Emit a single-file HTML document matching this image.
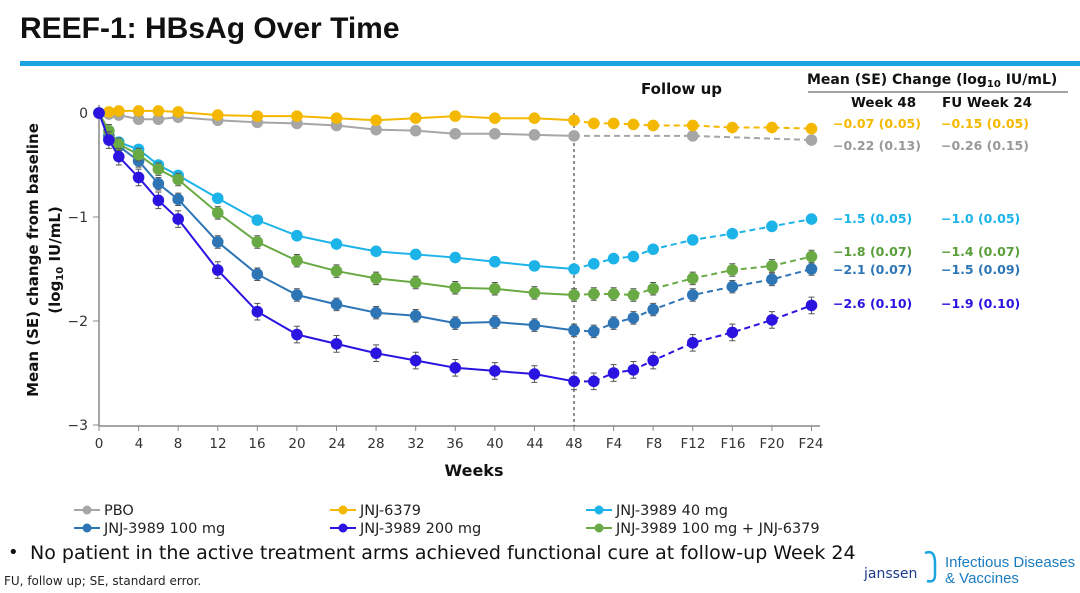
<!DOCTYPE html>
<html><head><meta charset="utf-8"><style>
body{margin:0;width:1080px;height:589px;background:#fff;overflow:hidden;font-family:"DejaVu Sans","Liberation Sans",sans-serif;}
</style></head><body>
<svg id="s" width="1080" height="589" xmlns="http://www.w3.org/2000/svg" font-family="DejaVu Sans, Liberation Sans, sans-serif">
<text x="20" y="38" font-size="30" font-weight="bold" fill="#111" font-family="Liberation Sans, sans-serif">REEF-1: HBsAg Over Time</text>
<rect x="20" y="61" width="1060" height="5" fill="#1aa3e0"/>
<g stroke="#888" stroke-width="1.5" fill="none">
<line x1="99" y1="105" x2="99" y2="426"/><line x1="99" y1="426" x2="820" y2="426"/>
</g>
<g stroke="#888" stroke-width="1">
<line x1="93" y1="113" x2="99" y2="113"/><line x1="93" y1="217" x2="99" y2="217"/><line x1="93" y1="321" x2="99" y2="321"/><line x1="93" y1="425" x2="99" y2="425"/>
</g>
<g id="xt" stroke="#888" stroke-width="1"></g>
<g font-size="14" fill="#333" text-anchor="end">
<text x="88" y="118">0</text><text x="88" y="222">−1</text><text x="88" y="326">−2</text><text x="88" y="430">−3</text>
</g>
<g font-size="13.5" fill="#333" text-anchor="middle">
<text x="99" y="448">0</text><text x="139" y="448">4</text><text x="178" y="448">8</text><text x="218" y="448">12</text><text x="257" y="448">16</text><text x="297" y="448">20</text><text x="337" y="448">24</text><text x="376" y="448">28</text><text x="416" y="448">32</text><text x="455" y="448">36</text><text x="495" y="448">40</text><text x="535" y="448">44</text><text x="574" y="448">48</text><text x="614" y="448">F4</text><text x="654" y="448">F8</text><text x="693" y="448">F12</text><text x="733" y="448">F16</text><text x="772" y="448">F20</text><text x="811" y="448">F24</text>
</g>
<text x="474" y="476" font-size="16" font-weight="bold" text-anchor="middle" fill="#111">Weeks</text>
<text transform="translate(38,260) rotate(-90)" font-size="15" font-weight="bold" text-anchor="middle" fill="#111">Mean (SE) change from baseline</text>
<text transform="translate(60,260) rotate(-90)" font-size="15" font-weight="bold" text-anchor="middle" fill="#111">(log<tspan font-size="10" dy="3">10</tspan><tspan dy="-3"> IU/mL)</tspan></text>
<line x1="574" y1="113" x2="574" y2="426" stroke="#222" stroke-width="1" stroke-dasharray="3,3"/>
<text x="641" y="94" font-size="15" font-weight="bold" fill="#111">Follow up</text>
<text x="807" y="84" font-size="14" font-weight="bold" fill="#111">Mean (SE) Change (log<tspan font-size="10" dy="3">10</tspan><tspan dy="-3"> IU/mL)</tspan></text>
<line x1="808" y1="92" x2="1068" y2="92" stroke="#444" stroke-width="1"/>
<text x="851" y="107" font-size="13.5" font-weight="bold" fill="#111">Week 48</text>
<text x="942" y="107" font-size="13.5" font-weight="bold" fill="#111">FU Week 24</text>
<g font-size="12.5" font-weight="bold">
<text x="833" y="128" fill="#f5b800">−0.07 (0.05)</text><text x="941" y="128" fill="#f5b800">−0.15 (0.05)</text>
<text x="833" y="150" fill="#999">−0.22 (0.13)</text><text x="941" y="150" fill="#999">−0.26 (0.15)</text>
<text x="833" y="223" fill="#1cb4e8">−1.5 (0.05)</text><text x="941" y="223" fill="#1cb4e8">−1.0 (0.05)</text>
<text x="833" y="256" fill="#5a9e3a">−1.8 (0.07)</text><text x="941" y="256" fill="#5a9e3a">−1.4 (0.07)</text>
<text x="833" y="274" fill="#2e75b6">−2.1 (0.07)</text><text x="941" y="274" fill="#2e75b6">−1.5 (0.09)</text>
<text x="833" y="308" fill="#2b14e0">−2.6 (0.10)</text><text x="941" y="308" fill="#2b14e0">−1.9 (0.10)</text>
</g>
<g id="series"></g>
<g font-size="14.5" fill="#222">
<line x1="74" y1="510" x2="100" y2="510" stroke="#a6a6a6" stroke-width="2"/><circle cx="87" cy="510" r="4.5" fill="#a6a6a6"/><text x="104" y="515">PBO</text>
<line x1="330" y1="510" x2="356" y2="510" stroke="#f5b800" stroke-width="2"/><circle cx="343" cy="510" r="4.5" fill="#f5b800"/><text x="360" y="515">JNJ-6379</text>
<line x1="586" y1="510" x2="612" y2="510" stroke="#1cb4e8" stroke-width="2"/><circle cx="599" cy="510" r="4.5" fill="#1cb4e8"/><text x="616" y="515">JNJ-3989 40 mg</text>
<line x1="74" y1="528" x2="100" y2="528" stroke="#2e75b6" stroke-width="2"/><circle cx="87" cy="528" r="4.5" fill="#2e75b6"/><text x="104" y="533">JNJ-3989 100 mg</text>
<line x1="330" y1="528" x2="356" y2="528" stroke="#2b14e0" stroke-width="2"/><circle cx="343" cy="528" r="4.5" fill="#2b14e0"/><text x="360" y="533">JNJ-3989 200 mg</text>
<line x1="586" y1="528" x2="612" y2="528" stroke="#6aaa45" stroke-width="2"/><circle cx="599" cy="528" r="4.5" fill="#6aaa45"/><text x="616" y="533">JNJ-3989 100 mg + JNJ-6379</text>
</g>
<text x="8" y="558" font-size="18" fill="#111">•</text>
<text x="30" y="559" font-size="19" fill="#111">No patient in the active treatment arms achieved functional cure at follow-up Week 24</text>
<text x="4" y="585" font-size="12" fill="#222">FU, follow up; SE, standard error.</text>
<text x="864" y="578" font-size="14" fill="#1a3a8a">janssen</text>
<path d="M925 553 q10 -4 10 10 v12 q0 8 -8 6" stroke="#1aa3e0" stroke-width="2.5" fill="none"/>
<text x="945" y="567" font-size="15" fill="#1a7cc0" font-family="Liberation Sans, sans-serif">Infectious Diseases</text>
<text x="945" y="583" font-size="15" fill="#1a7cc0" font-family="Liberation Sans, sans-serif">&amp; Vaccines</text>
</svg>
<script>
var W=[0,1,2,4,6,8,12,16,20,24,28,32,36,40,44,48],F=[48,50,52,54,56,60,64,68,72];
function X(w){return w<=48?99+w*9.896:574+(w-48)*9.896;}
function Y(v){return 113-v*104;}
var t="";for(var w=0;w<=72;w+=4)t+='<line x1="'+X(w)+'" y1="426" x2="'+X(w)+'" y2="431"/>';
document.getElementById('xt').innerHTML=t;
var S=[
["#a6a6a6",[0,-0.01,-0.02,-0.06,-0.06,-0.04,-0.07,-0.09,-0.1,-0.12,-0.16,-0.17,-0.2,-0.2,-0.21,-0.22],[-0.22,null,null,null,null,-0.22,null,null,-0.26],0.04],
["#f5b800",[0,0.01,0.02,0.02,0.02,0.01,-0.02,-0.03,-0.03,-0.05,-0.07,-0.05,-0.03,-0.05,-0.05,-0.07],[-0.07,-0.1,-0.1,-0.11,-0.12,-0.12,-0.14,-0.14,-0.15],0.03],
["#1cb4e8",[0,-0.24,-0.28,-0.35,-0.5,-0.6,-0.82,-1.03,-1.18,-1.26,-1.33,-1.36,-1.39,-1.43,-1.47,-1.5],[-1.5,-1.45,-1.4,-1.38,-1.31,-1.22,-1.16,-1.09,-1.02],0.03],
["#2e75b6",[0,-0.22,-0.32,-0.46,-0.68,-0.83,-1.24,-1.55,-1.75,-1.84,-1.92,-1.95,-2.02,-2.01,-2.04,-2.09],[-2.09,-2.1,-2.02,-1.97,-1.89,-1.75,-1.67,-1.6,-1.5],0.06],
["#6aaa45",[0,-0.17,-0.3,-0.4,-0.54,-0.64,-0.96,-1.24,-1.42,-1.52,-1.59,-1.63,-1.68,-1.69,-1.73,-1.75],[-1.75,-1.74,-1.74,-1.75,-1.69,-1.59,-1.51,-1.47,-1.38],0.06],
["#2b14e0",[0,-0.26,-0.42,-0.62,-0.84,-1.02,-1.51,-1.91,-2.13,-2.22,-2.31,-2.38,-2.45,-2.48,-2.51,-2.58],[-2.58,-2.58,-2.5,-2.47,-2.38,-2.21,-2.11,-1.99,-1.85],0.08]];
var h="";
S.forEach(function(s){
 var c=s[0],p=[],q=[];
 W.forEach(function(w,i){p.push([X(w),Y(s[1][i])]);});
 F.forEach(function(w,i){if(s[2][i]!==null)q.push([X(w),Y(s[2][i])]);});
 h+='<polyline points="'+p.map(a=>a.join(',')).join(' ')+'" fill="none" stroke="'+c+'" stroke-width="2"/>';
 h+='<polyline points="'+q.map(a=>a.join(',')).join(' ')+'" fill="none" stroke="'+c+'" stroke-width="2" stroke-dasharray="6,4"/>';
 p.concat(q.slice(1)).forEach(function(a,i){
  var e=i==0?0:s[3]*104;
  if(e)h+='<path d="M'+a[0]+' '+(a[1]-e)+'V'+(a[1]+e)+'M'+(a[0]-3)+' '+(a[1]-e)+'h6M'+(a[0]-3)+' '+(a[1]+e)+'h6" stroke="#555" stroke-width="1"/>';
  h+='<circle cx="'+a[0]+'" cy="'+a[1]+'" r="5.8" fill="'+c+'"/>';
 });
});
document.getElementById('series').innerHTML=h;
</script>
</body></html>
